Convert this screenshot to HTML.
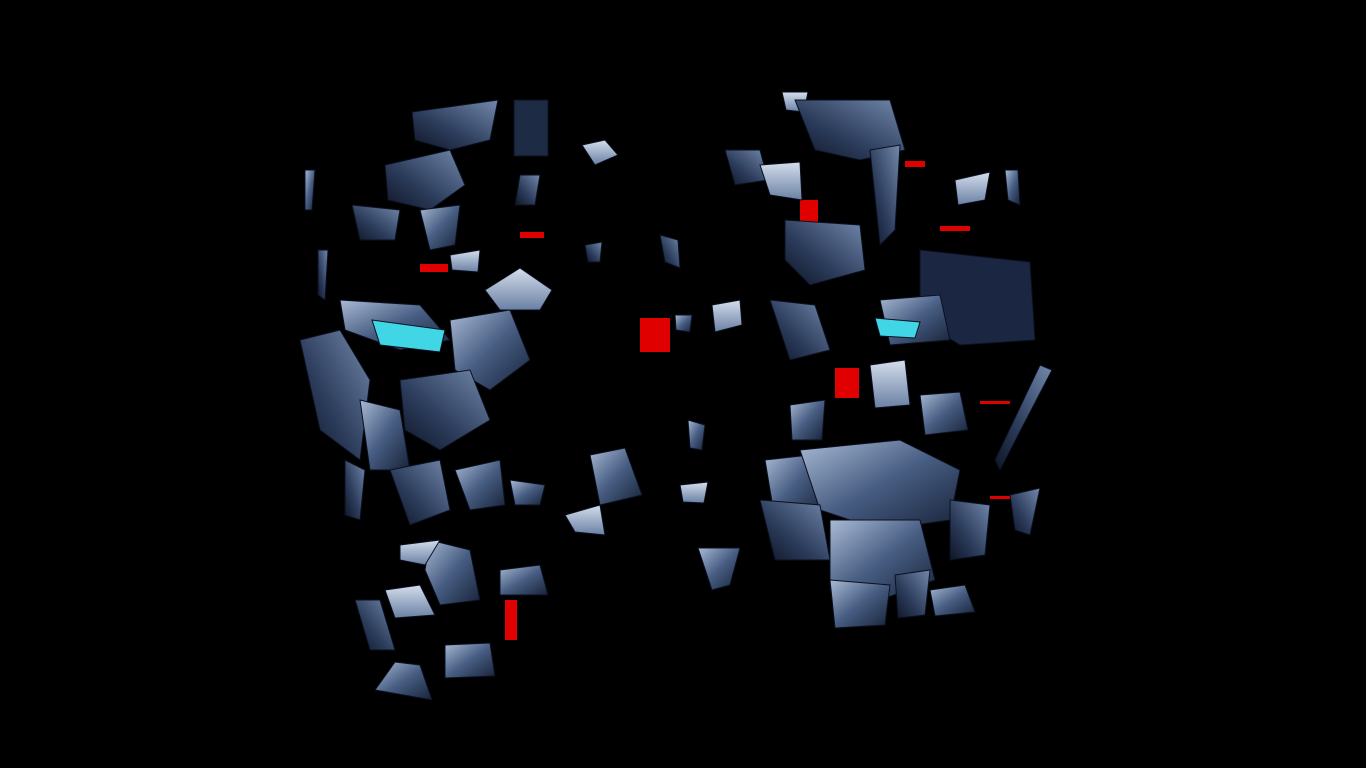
<!DOCTYPE html>
<html>
<head>
<meta charset="utf-8">
<style>
html,body{margin:0;padding:0;background:#000;width:1366px;height:768px;overflow:hidden;}
svg{display:block;}
</style>
</head>
<body>
<svg width="1366" height="768" viewBox="0 0 1366 768" xmlns="http://www.w3.org/2000/svg">
<defs>
<linearGradient id="g1" x1="0" y1="0" x2="1" y2="1">
<stop offset="0" stop-color="#a9bad4"/><stop offset="0.5" stop-color="#475d82"/><stop offset="1" stop-color="#172238"/>
</linearGradient>
<linearGradient id="g2" x1="1" y1="0" x2="0" y2="1">
<stop offset="0" stop-color="#7288ab"/><stop offset="0.6" stop-color="#2b3b5a"/><stop offset="1" stop-color="#0f1626"/>
</linearGradient>
<linearGradient id="g3" x1="0" y1="0" x2="0" y2="1">
<stop offset="0" stop-color="#d4deec"/><stop offset="1" stop-color="#6a80a4"/>
</linearGradient>
</defs>
<rect width="1366" height="768" fill="#000"/>

<g fill="#e00000">
<rect x="640" y="318" width="30" height="34"/>
<rect x="835" y="368" width="24" height="30"/>
<rect x="800" y="200" width="18" height="22"/>
<rect x="420" y="264" width="28" height="8"/>
<rect x="520" y="232" width="24" height="6"/>
<rect x="940" y="226" width="30" height="5"/>
<rect x="980" y="331" width="50" height="3"/>
<rect x="980" y="401" width="30" height="3"/>
<rect x="990" y="496" width="40" height="3"/>
<rect x="505" y="600" width="12" height="40"/>
<rect x="905" y="161" width="20" height="6"/>
</g>

<g stroke="#0a1020" stroke-width="1">
<polygon points="412,112 498,100 490,140 450,150 415,140" fill="url(#g2)"/>
<rect x="514" y="100" width="34" height="56" fill="#1d2b45"/>
<polygon points="385,165 450,150 465,185 430,210 388,200" fill="url(#g2)"/>
<polygon points="352,205 400,210 395,240 360,240" fill="url(#g2)"/>
<polygon points="420,210 460,205 455,245 430,250" fill="url(#g1)"/>
<polygon points="450,255 480,250 478,272 452,270" fill="url(#g3)"/>
<polygon points="485,290 520,268 552,290 540,310 500,310" fill="url(#g3)"/>
<polygon points="340,300 420,305 450,340 400,350 345,330" fill="url(#g1)"/>
<polygon points="372,320 445,330 440,352 380,345" fill="#41d6e6"/>
<polygon points="300,340 340,330 370,380 360,460 320,430" fill="url(#g2)"/>
<polygon points="450,320 510,310 530,360 490,390 455,370" fill="url(#g1)"/>
<polygon points="400,380 470,370 490,420 440,450 405,430" fill="url(#g2)"/>
<polygon points="360,400 400,410 410,470 370,470" fill="url(#g1)"/>
<polygon points="345,460 365,470 360,520 345,515" fill="url(#g2)"/>
<polygon points="390,470 440,460 450,510 410,525" fill="url(#g2)"/>
<polygon points="455,470 500,460 505,505 470,510" fill="url(#g1)"/>
<polygon points="510,480 545,485 540,505 515,505" fill="url(#g1)"/>
<polygon points="430,540 470,550 480,600 440,605 425,570" fill="url(#g1)"/>
<polygon points="400,545 440,540 425,565 400,560" fill="url(#g3)"/>
<polygon points="500,570 540,565 548,595 500,595" fill="url(#g1)"/>
<polygon points="385,590 420,585 435,615 395,618" fill="url(#g3)"/>
<polygon points="355,600 380,600 395,650 370,650" fill="url(#g2)"/>
<polygon points="445,645 490,643 495,676 445,678" fill="url(#g1)"/>
<polygon points="375,690 395,662 420,665 432,700" fill="url(#g1)"/>
<polygon points="520,175 540,175 535,205 515,205" fill="url(#g2)"/>
<polygon points="305,170 315,170 312,210 305,210" fill="url(#g1)"/>
<polygon points="318,250 328,250 325,300 318,295" fill="url(#g2)"/>
</g>

<g stroke="#0a1020" stroke-width="1">
<polygon points="582,145 605,140 618,155 595,165" fill="url(#g3)"/>
<polygon points="585,245 602,242 600,262 588,262" fill="url(#g2)"/>
<polygon points="660,235 678,240 680,268 665,262" fill="url(#g2)"/>
<polygon points="675,315 692,315 690,332 676,330" fill="url(#g1)"/>
<polygon points="712,305 740,300 742,325 715,332" fill="url(#g3)"/>
<polygon points="688,420 705,425 702,450 690,448" fill="url(#g1)"/>
<polygon points="590,455 625,448 642,495 600,505" fill="url(#g1)"/>
<polygon points="680,485 708,482 704,503 683,502" fill="url(#g3)"/>
<polygon points="565,515 600,505 605,535 575,532" fill="url(#g3)"/>
<polygon points="698,548 740,548 730,585 712,590" fill="url(#g1)"/>
</g>

<g stroke="#0a1020" stroke-width="1">
<polygon points="782,92 808,92 804,112 786,110" fill="url(#g3)"/>
<polygon points="795,100 890,100 905,150 860,160 815,150" fill="url(#g2)"/>
<polygon points="725,150 760,150 768,180 735,185" fill="url(#g2)"/>
<polygon points="760,165 800,162 802,200 770,195" fill="url(#g3)"/>
<polygon points="870,150 900,145 895,230 880,245" fill="url(#g2)"/>
<polygon points="955,180 990,172 985,200 958,205" fill="url(#g3)"/>
<polygon points="785,220 860,225 865,270 810,285 785,260" fill="url(#g2)"/>
<polygon points="920,250 1030,262 1035,340 960,345 920,320" fill="#1b2742"/>
<polygon points="880,300 940,295 950,340 890,345" fill="url(#g1)"/>
<polygon points="875,318 920,322 915,338 880,336" fill="#41d6e6"/>
<polygon points="770,300 815,305 830,350 790,360" fill="url(#g2)"/>
<polygon points="870,365 905,360 910,405 875,408" fill="url(#g3)"/>
<polygon points="920,395 960,392 968,430 925,435" fill="url(#g1)"/>
<polygon points="790,405 825,400 822,440 792,440" fill="url(#g1)"/>
<polygon points="1040,365 1052,370 1000,470 995,460" fill="url(#g2)"/>
<polygon points="765,460 810,455 820,510 775,520" fill="url(#g1)"/>
<polygon points="800,450 900,440 960,470 950,520 880,530 820,510" fill="url(#g1)"/>
<polygon points="760,500 820,505 830,560 775,560" fill="url(#g2)"/>
<polygon points="830,520 920,520 935,580 880,600 830,590" fill="url(#g1)"/>
<polygon points="950,500 990,505 985,555 950,560" fill="url(#g2)"/>
<polygon points="830,580 890,585 885,625 835,628" fill="url(#g1)"/>
<polygon points="895,575 930,570 925,615 898,618" fill="url(#g2)"/>
<polygon points="930,590 965,585 975,612 935,616" fill="url(#g1)"/>
<polygon points="1010,495 1040,488 1030,535 1015,530" fill="url(#g2)"/>
<polygon points="1005,170 1018,170 1020,205 1008,200" fill="url(#g1)"/>
</g>
</svg>
</body>
</html>
